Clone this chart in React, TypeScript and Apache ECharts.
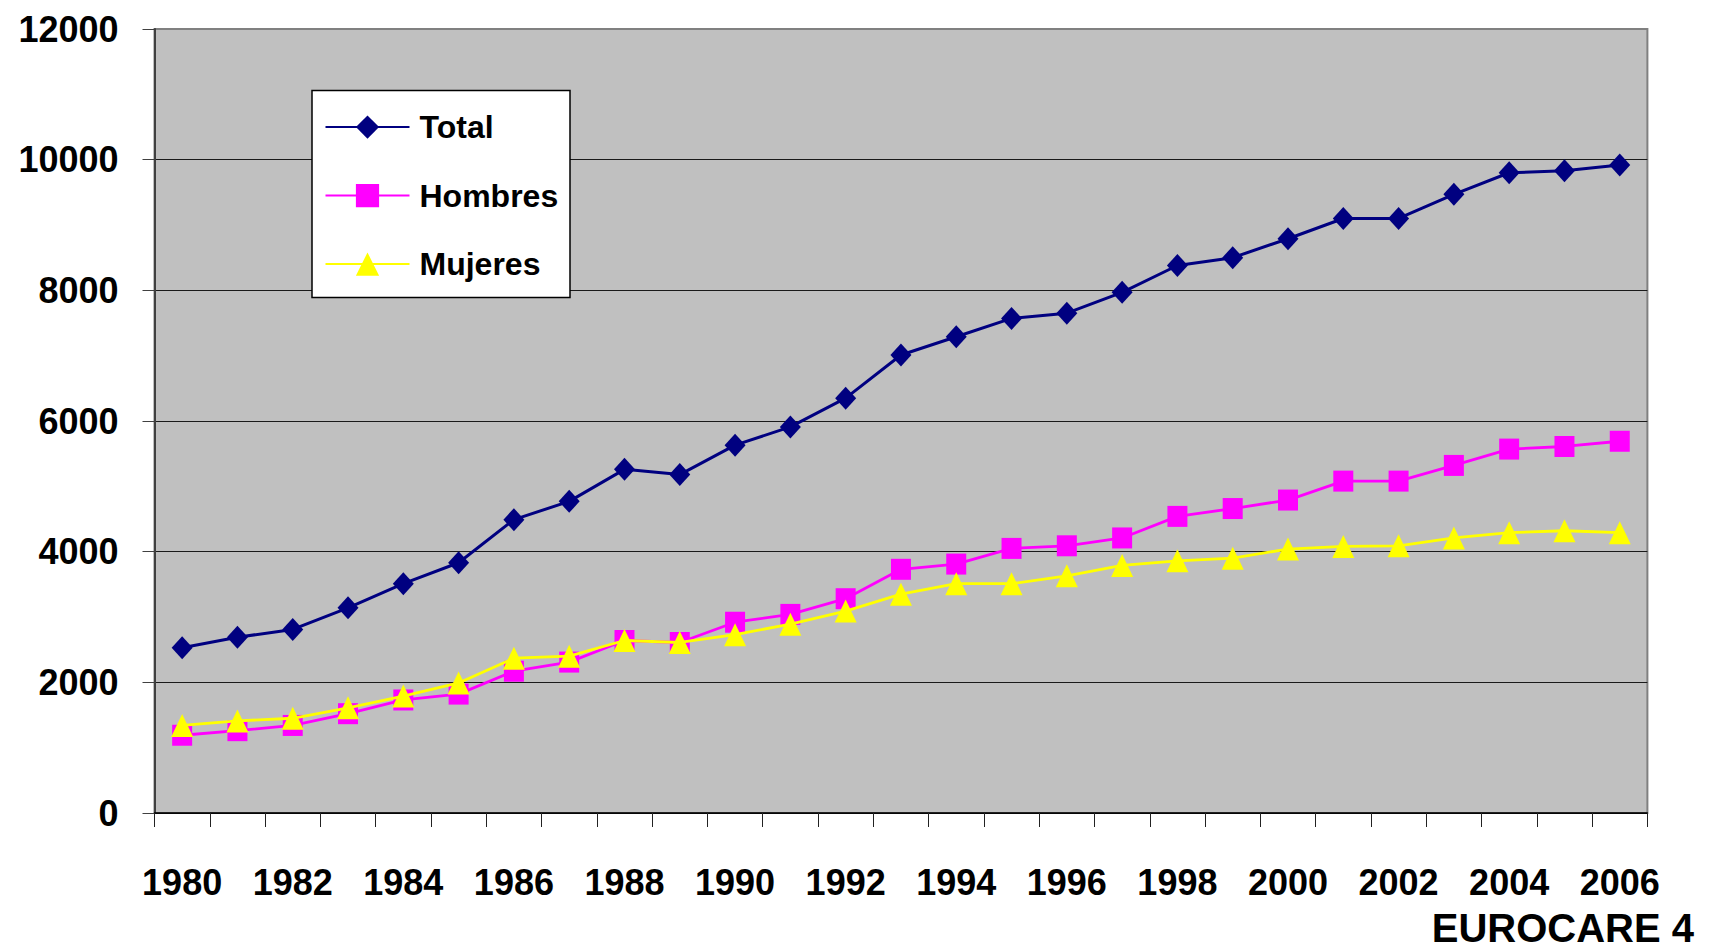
import React, { useEffect, useRef } from "react";
import * as echarts from "echarts";

const years = [
  "1980", "1981", "1982", "1983", "1984", "1985", "1986", "1987", "1988", "1989",
  "1990", "1991", "1992", "1993", "1994", "1995", "1996", "1997", "1998", "1999",
  "2000", "2001", "2002", "2003", "2004", "2005", "2006",
];
const totalValues = [
  2530, 2690, 2810, 3140, 3510, 3830, 4490, 4770, 5260, 5180,
  5630, 5910, 6350, 7010, 7290, 7570, 7650, 7970, 8380, 8500,
  8790, 9100, 9100, 9470, 9800, 9830, 9920,
];
const hombresValues = [
  1190, 1260, 1340, 1520, 1730, 1820, 2170, 2310, 2640, 2610,
  2920, 3040, 3280, 3730, 3810, 4050, 4090, 4210, 4540, 4660,
  4790, 5080, 5080, 5320, 5570, 5610, 5690,
];
const mujeresValues = [
  1340, 1410, 1450, 1610, 1790, 1990, 2370, 2400, 2640, 2610,
  2730, 2890, 3090, 3350, 3510, 3510, 3630, 3790, 3860, 3900,
  4040, 4080, 4090, 4210, 4290, 4320, 4290,
];
const seriesNames = ["Total", "Hombres", "Mujeres"];
const yMin = 0;
const yMax = 12000;
const yStep = 2000;
const sourceLabel = "EUROCARE 4";

const FONT = '"Liberation Sans", Arial, sans-serif';

export default function App() {
  const ref = useRef<HTMLDivElement>(null);
  useEffect(() => {
    const chart = echarts.init(ref.current!, null, { renderer: "svg" });
    chart.setOption({
      animation: false,
      backgroundColor: "#ffffff",
      textStyle: { fontFamily: FONT },
      grid: {
        left: 154.5,
        right: 63.6,
        top: 29,
        bottom: 138,
        show: true,
        backgroundColor: "#C0C0C0",
        borderColor: "#808080",
        borderWidth: 2,
      },
      xAxis: {
        type: "category",
        data: years,
        boundaryGap: true,
        axisLine: { show: true, lineStyle: { color: "#000", width: 1.5 } },
        axisTick: { show: true, interval: 0, length: 14, lineStyle: { color: "#222", width: 1 } },
        axisLabel: {
          interval: 1,
          margin: 51,
          color: "#000",
          fontSize: 36,
          fontWeight: "bold",
          fontFamily: FONT,
          lineHeight: 36,
        },
        splitLine: { show: false },
      },
      yAxis: {
        type: "value",
        min: yMin,
        max: yMax,
        interval: yStep,
        axisLine: { show: true, lineStyle: { color: "#404040", width: 2 } },
        axisTick: { show: true, length: 12, lineStyle: { color: "#404040", width: 1 } },
        axisLabel: {
          margin: 36,
          color: "#000",
          fontSize: 36,
          fontWeight: "bold",
          fontFamily: FONT,
          formatter: (v: number) => String(v),
        },
        splitLine: {
          show: true,
          lineStyle: {
            color: ["#1a1a1a", "#1a1a1a", "#1a1a1a", "#1a1a1a", "#1a1a1a", "#1a1a1a", "#808080"],
            width: 1,
          },
        },
      },
      legend: {
        orient: "vertical",
        left: 312,
        top: 90.6,
        padding: [20.5, 10, 10, 12.5],
        itemWidth: 84,
        itemHeight: 29,
        itemGap: 36.5,
        selectedMode: false,
        z: 20,
        data: seriesNames,
        textStyle: {
          fontSize: 32,
          fontWeight: "bold",
          color: "#000",
          fontFamily: FONT,
          lineHeight: 28,
          padding: [0, 0, 0, 5],
        },
      },
      graphic: [
        {
          type: "rect",
          z: 10,
          shape: { x: 312, y: 90.6, width: 258, height: 207 },
          style: { fill: "#ffffff", stroke: "#000", lineWidth: 1.5 },
        },
        {
          type: "text",
          z: 10,
          x: 1694,
          y: 928,
          style: {
            text: sourceLabel,
            font: `bold 40px ${FONT}`,
            lineHeight: 40,
            fill: "#000",
            textAlign: "right",
            textVerticalAlign: "middle",
          },
        },
      ],
      series: [
        {
          name: seriesNames[0],
          type: "line",
          data: totalValues,
          symbol: "diamond",
          symbolSize: [21, 23],
          showAllSymbol: true,
          lineStyle: { color: "#000080", width: 3 },
          itemStyle: { color: "#000080" },
          z: 3,
        },
        {
          name: seriesNames[1],
          type: "line",
          data: hombresValues,
          symbol: "rect",
          symbolSize: [20, 21],
          showAllSymbol: true,
          lineStyle: { color: "#FF00FF", width: 2.8 },
          itemStyle: { color: "#FF00FF" },
          z: 4,
        },
        {
          name: seriesNames[2],
          type: "line",
          data: mujeresValues,
          symbol: "triangle",
          symbolSize: [22, 23],
          showAllSymbol: true,
          lineStyle: { color: "#FFFF00", width: 2.8 },
          itemStyle: { color: "#FFFF00" },
          z: 5,
        },
      ],
    });
    return () => chart.dispose();
  }, []);
  return (
    <div
      ref={ref}
      style={{ position: "absolute", left: 0, top: 0, width: 1711, height: 951 }}
    />
  );
}
